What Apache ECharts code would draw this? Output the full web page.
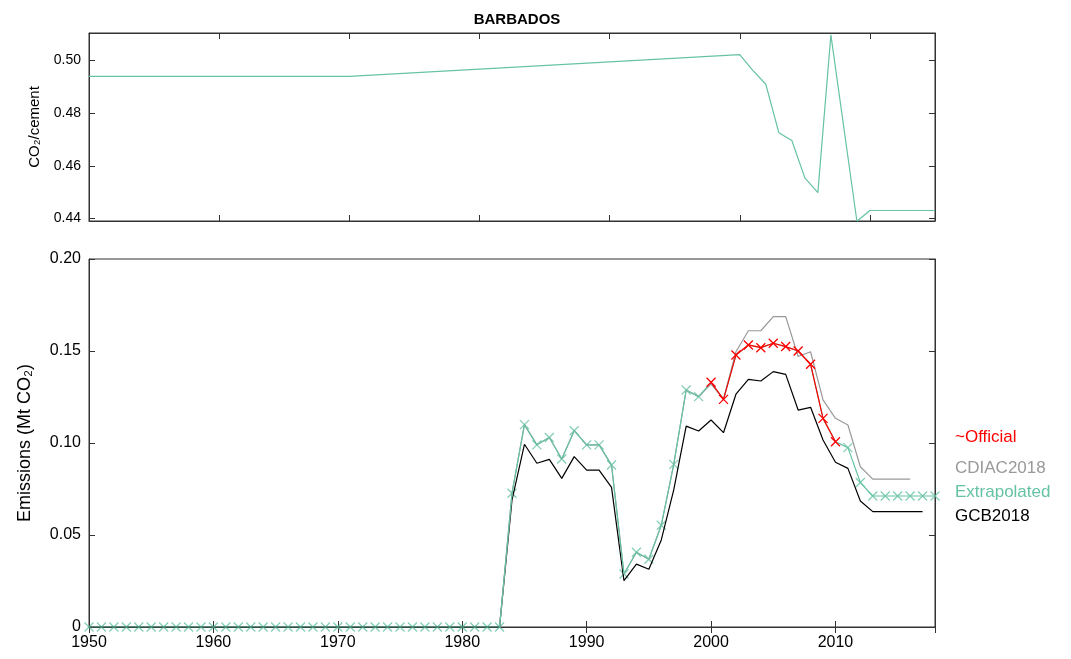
<!DOCTYPE html>
<html><head><meta charset="utf-8">
<script src="https://cdn.jsdelivr.net/npm/echarts@6/dist/echarts.min.js"></script>
<style>html,body{margin:0;padding:0;background:#fff}#c{width:1071px;height:659px}</style>
</head><body><div id="c"></div>
<script>
const ratioYears=[1950,1970,2000,2001,2002,2003,2004,2005,2006,2007,2009,2010,2015];
const ratioVals=[0.494,0.494,0.5023,0.4963,0.491,0.4726,0.4696,0.4554,0.4498,0.5098,0.4389,0.443,0.443];
const gcbYears=[];for(let y=1950;y<=2017;y++)gcbYears.push(y);
const gcbPost=[0.069,0.0993,0.089,0.0911,0.0808,0.0926,0.0853,0.0853,0.0759,0.0252,0.0342,0.0314,0.0473,0.0745,0.1092,0.1065,0.1125,0.1056,0.1265,0.1346,0.1337,0.1388,0.1373,0.1179,0.1194,0.1016,0.0895,0.0862,0.0685,0.0627,0.0627,0.0627,0.0627,0.0627];
const cdiacYears=[1983,1984,1985,1986,1987,1988,1989,1990,1991,1992,1993,1994,1995,1996,1997,1998,1999,2000,2001,2002,2003,2004,2005,2006,2007,2008,2009,2010,2011,2012,2013,2014,2015,2016];
const cdiacVals=[0,0.0727,0.110,0.099,0.103,0.0913,0.1067,0.099,0.099,0.088,0.0288,0.0406,0.0368,0.0553,0.0884,0.1288,0.1252,0.132,0.124,0.1496,0.161,0.161,0.1687,0.1687,0.147,0.1496,0.1234,0.1134,0.1098,0.0871,0.0804,0.0804,0.0804,0.0804];
const extrapYears=[];for(let y=1950;y<=2018;y++)extrapYears.push(y);
const extrapPost=[0.0727,0.110,0.099,0.103,0.0913,0.1067,0.099,0.099,0.088,0.0288,0.0406,0.0368,0.0553,0.0884,0.1288,0.1252,0.133,0.1237,0.1478,0.1533,0.1518,0.1542,0.1524,0.150,0.1428,0.1134,0.1007,0.0975,0.0785,0.0712,0.0712,0.0712,0.0712,0.0712,0.0712];
const officialYears=[2000,2001,2002,2003,2004,2005,2006,2007,2008,2009,2010];
const officialVals=[0.133,0.1237,0.1478,0.1533,0.1518,0.1542,0.1524,0.150,0.1428,0.1134,0.1007];
const zip=(a,b)=>a.map((x,i)=>[x,b[i]]);
const gcbVals=gcbYears.map(y=>y<1984?0:gcbPost[y-1984]);
const extrapVals=extrapYears.map(y=>y<1984?0:extrapPost[y-1984]);
const extrapMarked=extrapYears.map((y,i)=>[y,extrapVals[i]]).filter(p=>p[0]<2000||p[0]>2010);
const X='path://M0,0L10,10M10,0L0,10';
const green='#66c2a5';
const tickIn={inside:true,length:6,lineStyle:{color:'#333'}};
const ax={lineStyle:{color:'#333'}};
const F='Liberation Sans';
const chart=echarts.init(document.getElementById('c'));
chart.setOption({
 animation:false,
 title:{text:'BARBADOS',left:512,textAlign:'center',top:7,textStyle:{fontSize:15,fontWeight:'bold',fontFamily:F,color:'#000'}},
 grid:[{left:89,right:136,top:33,height:188,show:true,borderColor:'#333',borderWidth:1},
       {left:89,right:136,top:259,bottom:32,show:true,borderColor:'#333',borderWidth:1}],
 xAxis:[
  {type:'value',gridIndex:0,min:1950,max:2015,interval:10,axisLabel:{show:false},axisTick:tickIn,axisLine:ax,splitLine:{show:false}},
  {type:'value',gridIndex:0,position:'top',min:1950,max:2015,interval:10,axisLabel:{show:false},axisTick:tickIn,axisLine:ax,splitLine:{show:false}},
  {type:'value',gridIndex:1,min:1950,max:2018,interval:10,axisLabel:{fontSize:16,color:'#000',fontFamily:F,showMaxLabel:false,formatter:v=>String(v)},axisTick:tickIn,axisLine:ax,splitLine:{show:false}},
  {type:'value',gridIndex:1,position:'top',min:1950,max:2018,interval:10,axisLabel:{show:false},axisTick:tickIn,axisLine:ax,splitLine:{show:false}}
 ],
 yAxis:[
  {type:'value',gridIndex:0,min:0.439,max:0.5105,name:'CO₂/cement',nameLocation:'middle',nameGap:44,nameTextStyle:{fontSize:15,color:'#000',fontFamily:F},
   axisLabel:{customValues:[0.44,0.46,0.48,0.50],formatter:v=>v.toFixed(2),fontSize:14,color:'#000',fontFamily:F},
   axisTick:Object.assign({customValues:[0.44,0.46,0.48,0.50]},tickIn),axisLine:ax,splitLine:{show:false}},
  {type:'value',gridIndex:0,position:'right',min:0.439,max:0.5105,axisLabel:{show:false,customValues:[0.44,0.46,0.48,0.50]},
   axisTick:Object.assign({customValues:[0.44,0.46,0.48,0.50]},tickIn),axisLine:ax,splitLine:{show:false}},
  {type:'value',gridIndex:1,min:0,max:0.2,interval:0.05,name:'Emissions (Mt CO₂)',nameLocation:'middle',nameGap:55,nameTextStyle:{fontSize:18,color:'#000',fontFamily:F},
   axisLabel:{formatter:v=>v===0?'0':v.toFixed(2),fontSize:16,color:'#000',fontFamily:F},axisTick:tickIn,axisLine:ax,splitLine:{show:false}},
  {type:'value',gridIndex:1,position:'right',min:0,max:0.2,interval:0.05,axisLabel:{show:false},axisTick:tickIn,axisLine:ax,splitLine:{show:false}}
 ],
 series:[
  {type:'line',xAxisIndex:0,yAxisIndex:0,data:zip(ratioYears,ratioVals),symbol:'none',lineStyle:{color:green,width:1.2}},
  {type:'line',xAxisIndex:2,yAxisIndex:2,data:zip(gcbYears,gcbVals),symbol:'none',lineStyle:{color:'#000',width:1.2}},
  {type:'line',xAxisIndex:2,yAxisIndex:2,data:zip(cdiacYears,cdiacVals),symbol:'none',lineStyle:{color:'#999',width:1.2}},
  {type:'line',xAxisIndex:2,yAxisIndex:2,data:zip(extrapYears,extrapVals),symbol:'none',lineStyle:{color:green,width:1.2}},
  {type:'scatter',xAxisIndex:2,yAxisIndex:2,data:extrapMarked,symbol:X,symbolSize:9,itemStyle:{color:'none',borderColor:green,borderWidth:1.3}},
  {type:'line',xAxisIndex:2,yAxisIndex:2,data:zip(officialYears,officialVals),symbol:X,symbolSize:9,showAllSymbol:true,lineStyle:{color:'#f00',width:1.2},itemStyle:{color:'none',borderColor:'#f00',borderWidth:1.3}}
 ],
 graphic:[
  {type:'text',left:955,top:429,style:{text:'~Official',fill:'#f00',fontSize:17,fontFamily:F}},
  {type:'text',left:955,top:460,style:{text:'CDIAC2018',fill:'#999',fontSize:17,fontFamily:F}},
  {type:'text',left:955,top:484,style:{text:'Extrapolated',fill:green,fontSize:17,fontFamily:F}},
  {type:'text',left:955,top:508,style:{text:'GCB2018',fill:'#000',fontSize:17,fontFamily:F}}
 ]
});
</script></body></html>
